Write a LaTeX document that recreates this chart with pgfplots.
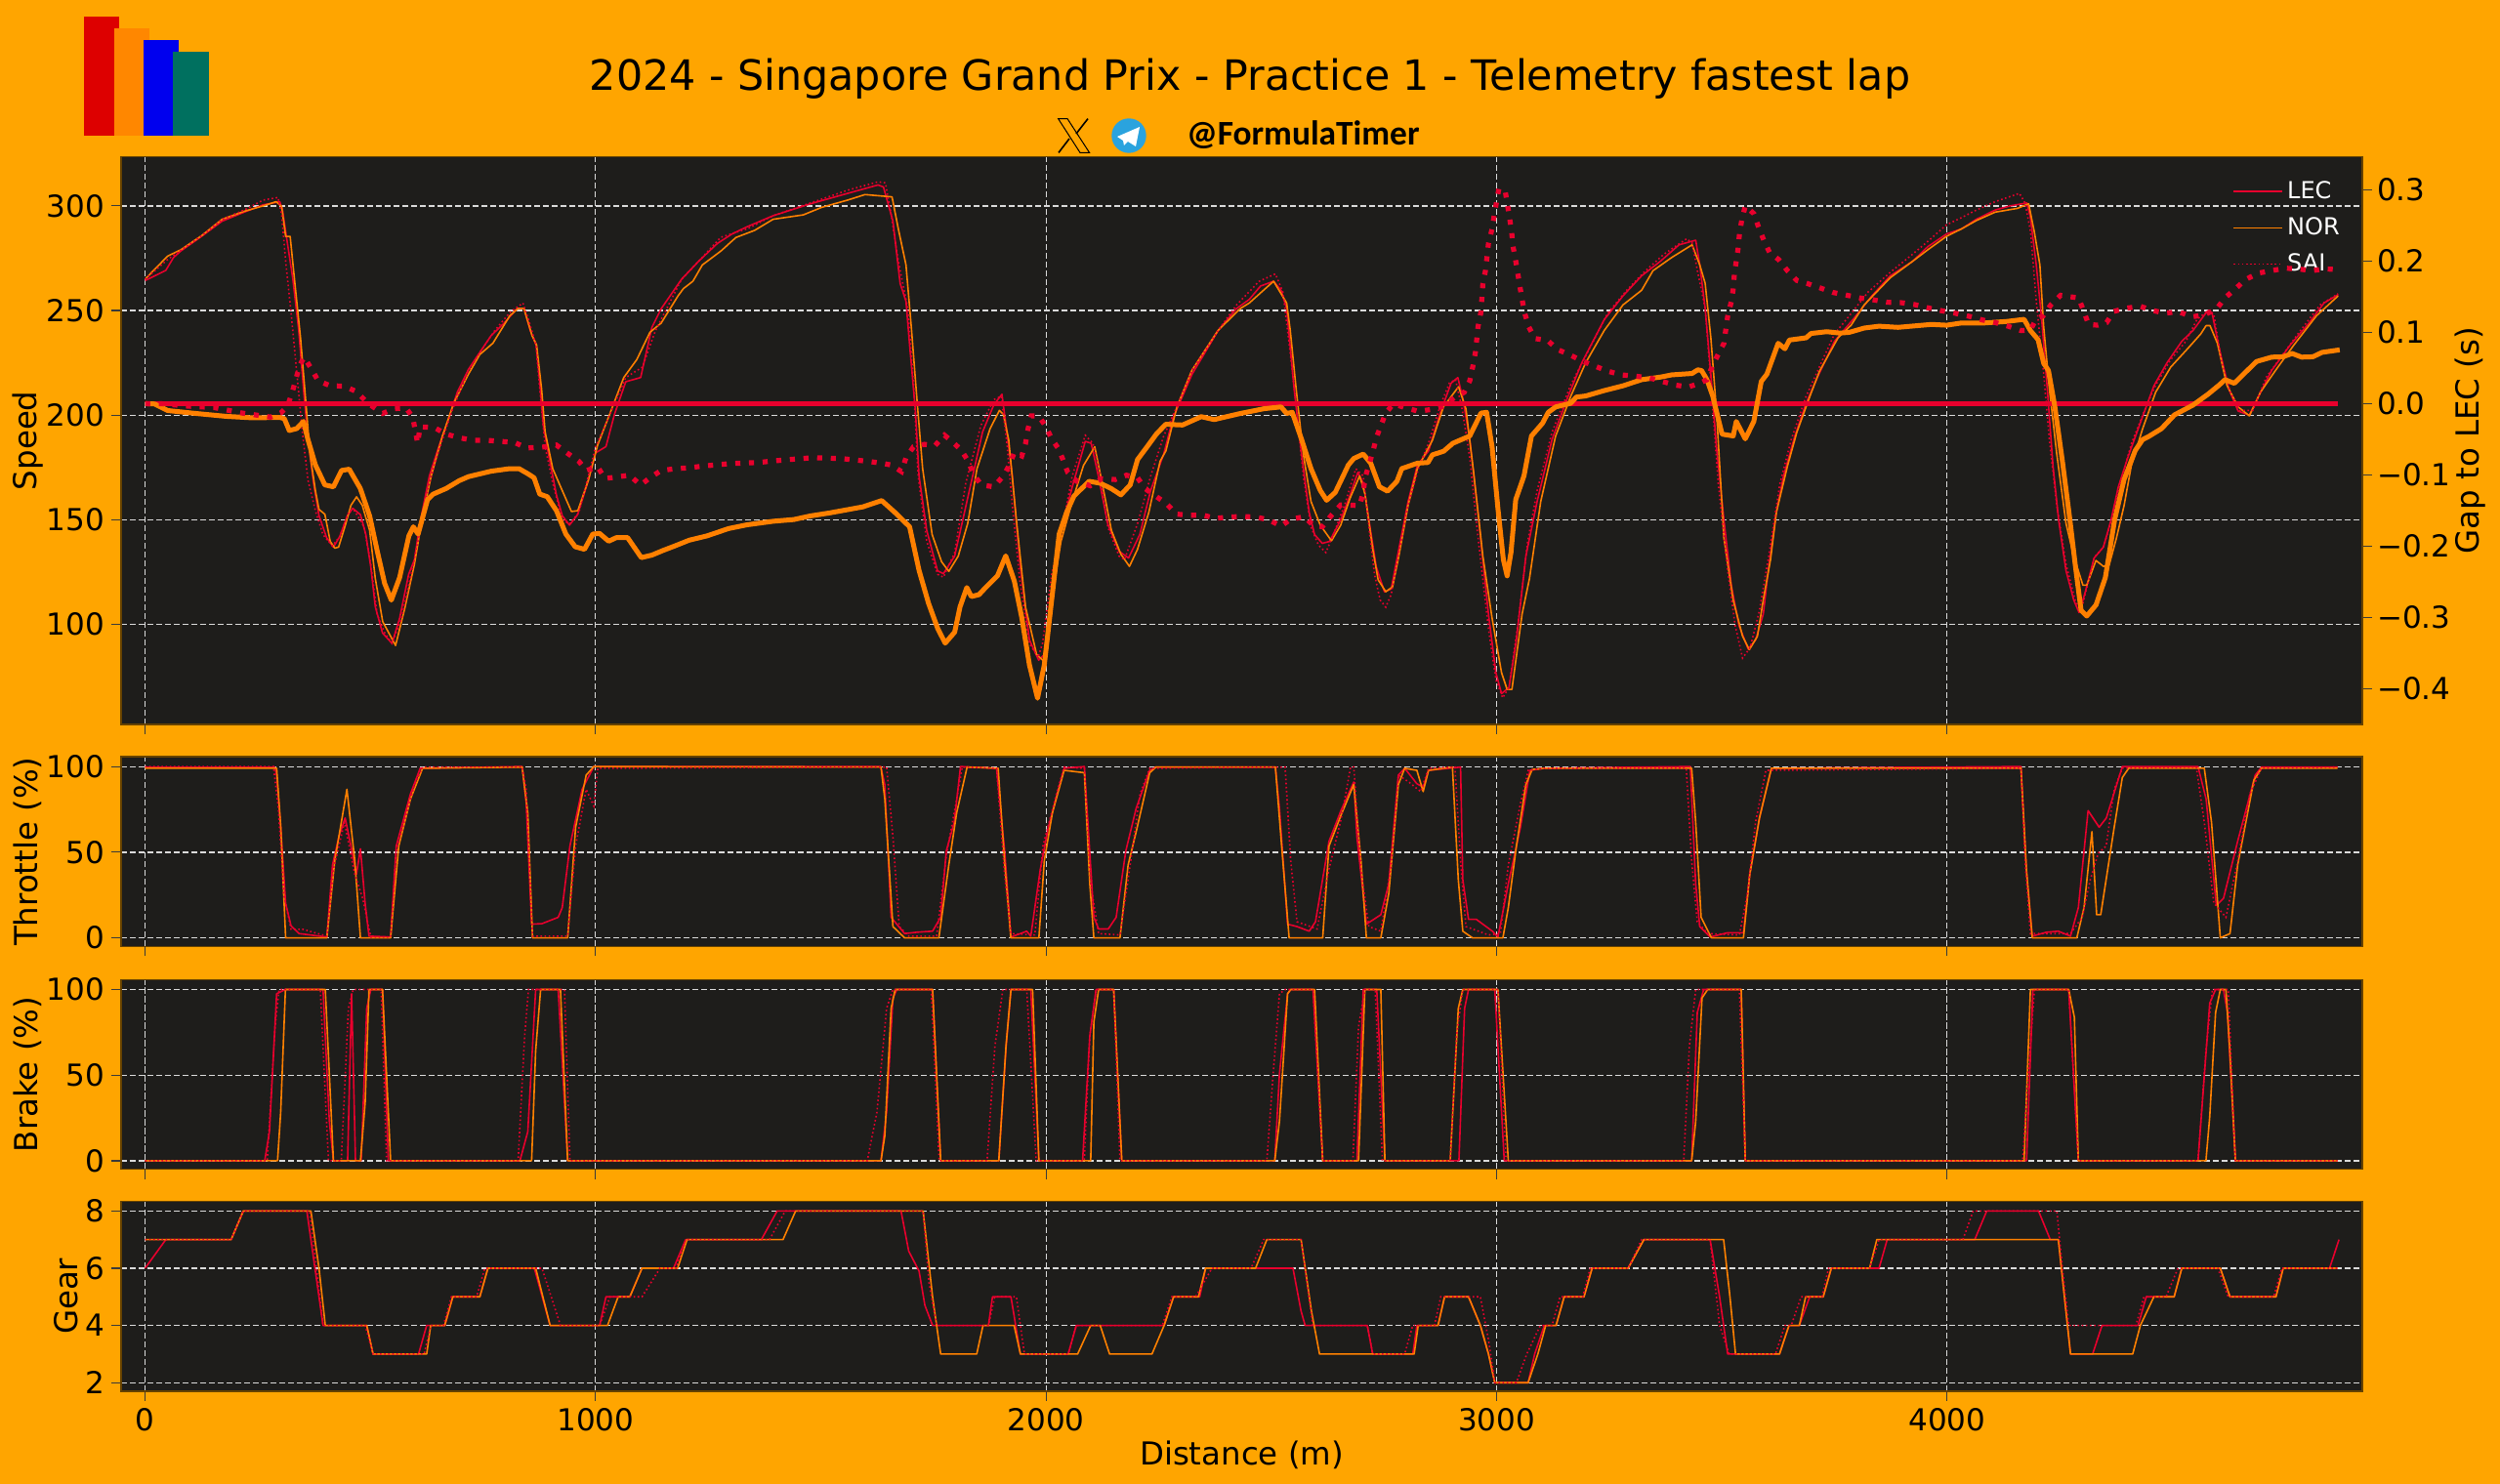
\documentclass[border=0pt]{standalone}
\usepackage{fontspec}
\usepackage{pgfplots}
\pgfplotsset{compat=1.18}
\setmainfont{DejaVu Sans}
\newfontfamily\handlefont{Carlito}

\definecolor{pagebg}{HTML}{FFA500}
\definecolor{panelbg}{HTML}{1E1D1B}
\definecolor{lec}{HTML}{E8002D}
\definecolor{nor}{HTML}{FF8000}
\definecolor{gridc}{HTML}{DADADA}
\definecolor{tickc}{HTML}{3A3A3A}
\definecolor{tg}{HTML}{2AA3DE}

\pgfplotsset{
  panel/.style={
    scale only axis, width=1147.5pt, anchor=south west,
    xmin=-53.3, xmax=4921.7,
    xtick={0,1000,2000,3000,4000},
    xticklabels={},
    tick align=outside, tick pos=left,
    major tick length=5pt,
    tick style={draw=tickc, line width=0.6pt},
    axis line style={draw=black!60!pagebg, line width=0.6pt},
    axis background/.style={fill=panelbg},
    xmajorgrids, ymajorgrids,
    x grid style={gridc, line width=0.5pt, dash pattern=on 3.2pt off 1.3pt},
    y grid style={gridc, line width=0.65pt, dash pattern=on 3.2pt off 1.3pt},
    tick label style={font=\fontsize{15.5}{15.5}\selectfont, text=black},
    label style={font=\fontsize{16.2}{16.2}\selectfont, text=black},
    /pgf/number format/assume math mode=true,
    /pgf/number format/1000 sep={},
  },
  lecline/.style={lec, line width=0.8pt, line join=round},
  norline/.style={nor, line width=0.8pt, line join=round},
  sailine/.style={lec, line width=0.8pt, dash pattern=on 0.8pt off 1.3pt},
}

\begin{document}
\begin{tikzpicture}[x=1pt,y=1pt]
\fill[pagebg] (0,0) rectangle (1280,760);

% logo
\fill[fill={rgb,255:red,221;green,0;blue,0}] (43,690.5) rectangle (61.2,751.7);
\fill[fill={rgb,255:red,255;green,135;blue,0}] (58.4,690.5) rectangle (76.7,745.3);
\fill[fill={rgb,255:red,0;green,0;blue,238}] (73.4,690.5) rectangle (91.7,739.3);
\fill[fill={rgb,255:red,0;green,112;blue,95}] (88.7,690.5) rectangle (107.2,733.3);

% title and handle
\node[text=black,font=\fontsize{21.4}{21.4}\selectfont] at (640,719.4) {2024 - Singapore Grand Prix - Practice 1 - Telemetry fastest lap};
\draw[black,line width=0.5pt,line join=miter] (541.8,699.2) -- (546.5,699.2) -- (557.8,681.8) -- (553,681.8) -- cycle;
\draw[black,line width=0.8pt] (557,699.2) -- (551,691.5);
\draw[black,line width=0.8pt] (547.5,689) -- (542,681.8);
\fill[tg] (578,690.5) circle (8.85);
\fill[white] (572,690) -- (583.5,695) -- (581.5,685) -- (577.5,687.5) -- (575.5,685.5) -- (575,688) -- cycle;
\node[text=black,font=\handlefont\bfseries\fontsize{17.7}{17.7}\selectfont,anchor=west,inner sep=0pt] at (607.3,691) {@FormulaTimer};

% speed
\begin{axis}[panel, at={(62pt,389pt)}, height=290.75pt,
  ymin=52.3, ymax=323.5, ytick={100,150,200,250,300},
  ylabel={Speed},
  y label style={at={(axis description cs:-0.0418,0.5)},anchor=center},
  legend cell align=left,
  legend image code/.code={\draw[#1] (0pt,0pt) -- (25pt,0pt);},
  legend style={at={(axis description cs:0.9935,0.971)},anchor=north east,draw=none,fill=none,
    text=white,font=\fontsize{12}{12}\selectfont,row sep=4.2pt,inner sep=2pt,
    /tikz/every even column/.append style={column sep=9pt}},
]
\addplot[lecline] coordinates {
(0,264.3)(46,269.2)(63,275.3)(79,278.4)(125,285.4)(171,292.7)(220,297)(262,300.5)(299,302)(305,298)(316,282)(328,265)(341,240.5)(353,209)(362,188)(374,167.5)(386,152)(403,141.5)(418,137)(432,142)(449,152)(461,155.5)(478,152.5)(490,143)(501,127.5)(511,108.5)(527,96)(548,91)(565,103)(585,124)(598,131)(610,148.3)(631,171)(652,185)(677,200.5)(693,211)(718,222)(743,230)(768,238)(797,244)(826,251)(841,251)(855,240.5)(868,233.5)(876,216)(884,195)(897,179.7)(913,162)(926,152)(942,147.5)(960,152.5)(984,169)(1000,182)(1023,185)(1042,200.5)(1067,216)(1100,218)(1125,242)(1146,251)(1191,265)(1229,273.6)(1270,282)(1303,286.6)(1336,290)(1394,295.3)(1477,301)(1560,306)(1627,310)(1639,309)(1660,292.7)(1676,263)(1689,254.4)(1697,233.6)(1710,202)(1718,171)(1735,145)(1759,125.7)(1772,124.3)(1797,132.7)(1826,160.5)(1859,192)(1884,205)(1902,210)(1913,192)(1925,171)(1942,129)(1963,92.7)(1983.5,83)(1996,85.7)(2017,124)(2033,145)(2058,165.7)(2087,187.5)(2100,186.6)(2116,171)(2137,148)(2162,135)(2183,131.8)(2208,143)(2232,164)(2261,181.4)(2282,198.8)(2324,219.6)(2382,240.5)(2423,251)(2451,255.3)(2476,261.7)(2505,264)(2521.5,259.7)(2534,251)(2550.5,212.7)(2567,181.4)(2584,153.6)(2596,143)(2613,138.8)(2629,139.7)(2654,150)(2675,162)(2692,172.7)(2704,167.5)(2716.5,150)(2733,127.5)(2751,115.7)(2766,117)(2783,136)(2803.6,158.8)(2824,176)(2849,183)(2874,200.5)(2899,215.3)(2914,218)(2925.5,207.5)(2940.5,188.3)(2957,157)(2982,105)(2998.5,77)(3011,67)(3027.6,70)(3044,92.7)(3065,132.7)(3090,158.8)(3123,188.3)(3156,207.5)(3189,225)(3239,245.7)(3280.6,257)(3322,266.6)(3364,273.6)(3405,281.4)(3442,283.6)(3451,271.8)(3463,251)(3475.6,219.6)(3488,185)(3504.6,150)(3521,118.8)(3538,99.6)(3558.5,88.3)(3575,92.7)(3592,105)(3604,127.5)(3621,153.6)(3637,171)(3662,190)(3687,205.7)(3712,218)(3750,235.3)(3791,245.7)(3833,257)(3874,266.6)(3924,273.6)(3957,280.5)(3999,286.6)(4032,289)(4065,293.6)(4106.6,298)(4140,300)(4177,301.4)(4185,294.4)(4198,271.8)(4210,245.7)(4223,211)(4235,176)(4247.6,150)(4264,125.7)(4281,111.8)(4293,105.7)(4306,115)(4326.4,131.8)(4347,137)(4364,150)(4380,165.7)(4401,179.7)(4430,197)(4459,214)(4488,225)(4521,235.3)(4546,240.5)(4575,249)(4588,249)(4604,232)(4625,212.7)(4646,202)(4671,200)(4691.5,209)(4720.5,221.4)(4762,233.6)(4803.5,244)(4836.6,253.6)(4868,257.6)
};
\addlegendentry{LEC}
\addplot[norline] coordinates {
(0,265)(50,276)(79,279)(125,285.7)(171,293.6)(220,297.4)(262,300)(291,302)(303,299.7)(312,285.4)(322,285.4)(332.5,263)(345,237)(357,205.7)(366,181.4)(378,164)(386,155)(399,152.7)(411,139.7)(421,136.5)(429.5,137)(444.5,147.5)(457,157)(469.4,161)(482,157)(498.4,145)(511,122)(527.4,101.4)(556,90)(577,108.3)(598,129)(614.5,150)(635,171)(660,190)(685,205.7)(718,219.7)(743,229)(772,234.4)(809.5,247.5)(827.7,251)(841,251)(859,238)(869,233.6)(880,212.7)(888,192)(905,174.4)(926,164)(946.4,154)(960.5,154.4)(984,169)(1004.4,185.7)(1025,197)(1062.5,218)(1091.5,226.6)(1120.6,239.6)(1145.5,244)(1183,257)(1195,260.5)(1216,264)(1237,271.8)(1278,278.4)(1311.5,284.9)(1353,288.3)(1394,293.6)(1461,295.7)(1502,299.3)(1560,302.8)(1598,305.4)(1658,304.3)(1672,289)(1689,271.8)(1701.4,240.5)(1714,205.7)(1726,174.4)(1747,143)(1768,130)(1784,125.4)(1805,132.7)(1826,148.3)(1846.5,174.4)(1875.6,193.5)(1896.3,202.3)(1905,200.5)(1917,188.3)(1934,150)(1954.4,108.3)(1979,85.7)(1996,82.3)(2012.5,112)(2033,139.7)(2058,158.8)(2083,176)(2108,184.9)(2124.5,167.5)(2145,145)(2166,133.6)(2185,127.8)(2203,136)(2228,153.6)(2253,178)(2266,183)(2290.4,204)(2323.5,221.4)(2381.6,240.5)(2431.4,251)(2451,253.6)(2505,264)(2534,253.6)(2542,240.5)(2555,212.7)(2571,181.4)(2588,158.8)(2608.6,147.5)(2633.5,140)(2654,147.5)(2675,160.5)(2696,171)(2708,162.3)(2725,136)(2737,121.4)(2754,115.7)(2769,118)(2783,132.7)(2803.6,157)(2824,174.4)(2841,181.4)(2857.5,188)(2882,204)(2915.6,213.6)(2932,203)(2949,172.7)(2969.5,132.7)(2990,103)(3011,77)(3023.4,69)(3034,69)(3056.6,105)(3073,122)(3098,158.8)(3131,190)(3164.5,209)(3197.6,225)(3239,240.5)(3280.6,252.7)(3322,259.7)(3347,269)(3388.4,275.3)(3434,281.4)(3451,271.8)(3463,263)(3475.6,237)(3488,202.3)(3504.6,141.4)(3525,111.8)(3546,94.4)(3561,88)(3579,94.4)(3592,111.8)(3608,131)(3621,153.6)(3646,176)(3666.4,191.8)(3695.4,209)(3716.7,221)(3758,237)(3787,243)(3816,252.7)(3874,265.7)(3924,273.6)(3957,279)(3999,285.5)(4032,289)(4065,293)(4106.6,297)(4156,298.8)(4181,301)(4193.7,287.5)(4206,271.8)(4214.4,242.3)(4227,212.7)(4243.5,181.4)(4264,148.3)(4281,132.7)(4301.5,118.8)(4310,118.8)(4330.5,130.6)(4347,127.8)(4359.6,128.3)(4376,141.4)(4393,157)(4409,176)(4434,193.5)(4463,211)(4496.5,223)(4534,231.8)(4563,238.8)(4575,242.8)(4583.6,242.8)(4600,234.4)(4621,214.4)(4646,204)(4671,199.7)(4695.6,211)(4729,221.4)(4770,233.6)(4820,247.5)(4868,257)
};
\addlegendentry{NOR}
\addplot[sailine] coordinates {
(0,264.9)(50,274.4)(125,285.7)(171,293.6)(220,298)(262,302.8)(295,304)(303,296)(312,273.6)(324,249)(337,219.7)(349,192)(361.5,169)(378,154.4)(394.7,143)(415.4,137.6)(432,142)(453,154.4)(465,154.4)(486,146.6)(501,129)(515,105)(532,96)(548,91)(569,103)(594,127.5)(610.4,145)(631,167.5)(652,183)(681,202)(718,221.4)(743,230)(776.3,240.5)(809.5,249)(838.5,253.6)(851,245.7)(867.6,233.6)(876,212.7)(888,184.9)(905,167.5)(926,150)(942,148)(963,153.6)(984,171)(1000,184.9)(1025,197)(1067,218)(1104,223)(1133,240.5)(1158,251)(1191,265)(1229,273.6)(1278,285)(1336,289)(1394,295.3)(1477,301.4)(1560,307.5)(1627,311.5)(1643.3,311)(1656,296)(1672,273.6)(1693,251)(1705.5,216)(1716,171)(1735,139.7)(1759.4,124)(1772,122.6)(1797,134.4)(1821.6,167.5)(1855,195)(1884,207.5)(1900.5,209)(1913,186.6)(1925,157)(1942,120.5)(1963,91)(1982,84.3)(1992,91)(2012.5,124)(2033,143)(2058,171)(2087,190.4)(2104,186.6)(2120.3,171)(2137,146.6)(2162,132.7)(2174,131)(2203,148.3)(2232.3,171)(2261,190)(2290,204)(2323.5,221.4)(2382,240.5)(2423,252.7)(2473,264)(2509,267.5)(2525.7,258.8)(2538,237)(2554.7,205.7)(2571,171)(2588,146.6)(2604.5,138)(2621,134.4)(2637.7,143)(2662.5,157)(2687.4,174.4)(2704,171)(2716.5,146.6)(2729,124)(2741.4,111.8)(2754,108.3)(2766,114.4)(2783,134.4)(2803.6,157)(2828.5,176)(2849,186.6)(2874,204)(2895,215.3)(2909,217)(2924,202.3)(2940.5,179.7)(2957,145)(2982,98)(2998.5,73.6)(3013.5,65)(3027.6,70)(3048,101.4)(3069,139.7)(3090,164)(3123,191.8)(3164.5,214.4)(3206,231.8)(3247.4,249)(3289,259.7)(3330.4,269)(3372,277)(3422,284.3)(3434,282.3)(3446.5,268.3)(3463,251)(3475.6,216)(3492,167.5)(3513,125.7)(3529.5,99.6)(3546,84)(3563,89)(3583.4,106.6)(3604,132.7)(3629,167.5)(3654,188.3)(3687,209)(3720,224.7)(3750,238.8)(3783,247.5)(3824.5,258.8)(3874,268.3)(3924,277)(3957,283)(3999,291)(4032,294.4)(4065,298)(4106.6,302)(4160.5,306)(4173,301.4)(4185.4,287.5)(4198,254.4)(4214.4,219.7)(4227,188.3)(4243.5,157)(4264,129)(4285,111)(4297.4,106.6)(4314,120.5)(4326.4,132)(4347,137)(4368,151.8)(4384.5,167.5)(4409.4,186.6)(4438.4,202.3)(4463,214.4)(4496.5,226.6)(4530,235.3)(4554.6,245.7)(4579.4,250)(4592,248.3)(4608.5,226.6)(4629,211)(4650,202.3)(4679,202.3)(4708,218)(4737,226.6)(4778.5,238.8)(4828,252.7)(4868,258)
};
\addlegendentry{SAI}
\end{axis}

% gap to LEC
\begin{axis}[panel, at={(62pt,389pt)}, height=290.75pt,
  axis background/.style={}, xmajorgrids=false, ymajorgrids=false,
  axis x line=none, axis y line*=right, tick pos=right,
  ymin=-0.45, ymax=0.3464,
  ytick={-0.4,-0.3,-0.2,-0.1,0,0.1,0.2,0.3},
  yticklabels={−0.4,−0.3,−0.2,−0.1,0.0,0.1,0.2,0.3},
  y tick label style={xshift=-1pt},
  ylabel={Gap to LEC (s)},
  y label style={at={(axis description cs:1.048,0.5)},anchor=center,rotate=0},
]
\addplot[lec, line width=2.5pt] coordinates {(0,0)(4868,0)};
\addplot[nor, line width=2.5pt, line join=round] coordinates {
(0,0)(21,-0.0005)(50,-0.0097)(112.6,-0.0138)(179,-0.0178)(237,-0.0199)(299,-0.0194)(309,-0.021)(320,-0.0377)(336.6,-0.035)(351.5,-0.025)(361.5,-0.0505)(378,-0.086)(399,-0.114)(418,-0.1167)(436,-0.0938)(453,-0.092)(477.7,-0.119)(498.4,-0.1575)(515,-0.206)(531.6,-0.252)(546.5,-0.2757)(565,-0.244)(585.5,-0.1855)(595.4,-0.1728)(606,-0.183)(627,-0.1346)(639.4,-0.127)(668.4,-0.119)(697.5,-0.108)(718,-0.1024)(768,-0.0948)(809.5,-0.0912)(830,-0.0912)(851,-0.0989)(863.4,-0.104)(876,-0.1269)(892.5,-0.1305)(913,-0.15)(934,-0.183)(954.7,-0.2008)(975.4,-0.2044)(993.7,-0.183)(1008.6,-0.182)(1029,-0.193)(1046,-0.188)(1071,-0.188)(1101.5,-0.216)(1125,-0.2125)(1149.6,-0.206)(1174.5,-0.2)(1207.7,-0.1916)(1247.5,-0.1855)(1295,-0.1753)(1336,-0.17)(1394.4,-0.165)(1440,-0.1626)(1477,-0.1575)(1519,-0.1534)(1593.5,-0.1448)(1635,-0.136)(1664,-0.1524)(1697,-0.1728)(1718,-0.234)(1739,-0.28)(1759.4,-0.3155)(1776,-0.336)(1797,-0.3206)(1809,-0.285)(1824,-0.258)(1834,-0.2706)(1851,-0.268)(1867.3,-0.257)(1892,-0.2416)(1910.4,-0.2136)(1929.5,-0.249)(1946,-0.3)(1963,-0.3665)(1981,-0.4133)(1996,-0.3665)(2012.5,-0.2747)(2029,-0.183)(2045.6,-0.1524)(2062,-0.1295)(2095.4,-0.109)(2120,-0.1116)(2145,-0.1193)(2166,-0.128)(2186.7,-0.114)(2203,-0.0785)(2224,-0.0607)(2244.7,-0.0428)(2265.5,-0.029)(2303,-0.03)(2344.3,-0.0183)(2373,-0.0224)(2431.4,-0.0138)(2484,-0.0071)(2521.5,-0.0046)(2534,-0.0138)(2546.4,-0.0122)(2567,-0.05)(2588,-0.0912)(2608.6,-0.1218)(2622.7,-0.1356)(2642,-0.1244)(2671,-0.0861)(2683,-0.077)(2704,-0.0708)(2720.6,-0.0836)(2740,-0.1167)(2758,-0.1228)(2778.7,-0.109)(2789.5,-0.0912)(2824,-0.0836)(2847.6,-0.0826)(2857.5,-0.0719)(2882.4,-0.0668)(2903,-0.0556)(2940.5,-0.0454)(2965.4,-0.0133)(2977.8,-0.0122)(2990,-0.0607)(3003,-0.1473)(3015,-0.2187)(3023.4,-0.2416)(3032,-0.2085)(3042.5,-0.1346)(3060.8,-0.1014)(3077.4,-0.0454)(3102,-0.0275)(3114.7,-0.0122)(3131.3,-0.0046)(3164.5,0.0005)(3177,0.0092)(3197.6,0.0107)(3239,0.0183)(3280.6,0.025)(3322,0.0336)(3363.6,0.0372)(3388.4,0.0403)(3434,0.0423)(3446.5,0.0474)(3455,0.0464)(3467,0.0336)(3479.7,0.0107)(3500.5,-0.0428)(3525.3,-0.0454)(3532,-0.025)(3552,-0.0494)(3571,-0.025)(3587.5,0.0311)(3600,0.0413)(3625,0.0846)(3640,0.077)(3650,0.0892)(3687,0.0923)(3698,0.0984)(3733,0.1009)(3762,0.0989)(3783,0.1)(3816,0.106)(3849,0.1086)(3891,0.107)(3965.5,0.1111)(3999,0.11)(4032,0.1131)(4081.7,0.1131)(4131.5,0.1152)(4171,0.1182)(4185,0.1024)(4202,0.0897)(4214.4,0.0566)(4225,0.0464)(4239.3,-0.0046)(4256,-0.081)(4272.5,-0.1626)(4285,-0.2288)(4297.4,-0.29)(4310,-0.298)(4330.6,-0.2824)(4351.3,-0.2441)(4372,-0.1626)(4392.8,-0.1065)(4417.7,-0.0657)(4434,-0.0505)(4446.7,-0.0464)(4475.8,-0.0352)(4504.8,-0.0158)(4546,-0.002)(4579.4,0.0133)(4604,0.026)(4617,0.0336)(4637.5,0.0285)(4658,0.0413)(4687,0.0591)(4720.5,0.0652)(4745.4,0.0657)(4766,0.0703)(4787,0.0652)(4812,0.0657)(4832.5,0.0719)(4871.5,0.0754)
};
\addplot[lec, line width=2.6pt, dash pattern=on 2.6pt off 4.4pt] coordinates {
(0,0)(34,0)(96,-0.0036)(154,-0.0056)(216,-0.0133)(278.5,-0.0189)(302,-0.0127)(316,-0.0036)(327,0.0168)(335,0.0352)(343.5,0.054)(353,0.0652)(370,0.0479)(384,0.0321)(411,0.025)(442,0.0245)(469.4,0.0168)(488,0.0046)(504,-0.0036)(527.4,-0.0138)(552,-0.0071)(579,-0.0061)(594,-0.0189)(600,-0.0387)(605,-0.0556)(610.4,-0.0326)(642,-0.0336)(668.4,-0.0428)(697.5,-0.0479)(728,-0.0515)(760,-0.0515)(789,-0.053)(820,-0.0545)(847,-0.0622)(888,-0.0607)(913,-0.0581)(938,-0.0698)(963,-0.081)(979.6,-0.0938)(1004.4,-0.0887)(1021,-0.105)(1046,-0.103)(1075,-0.1004)(1100,-0.1142)(1120.6,-0.104)(1145.5,-0.0938)(1178.6,-0.0912)(1207.7,-0.09)(1237,-0.0877)(1299,-0.0841)(1360,-0.0826)(1419,-0.079)(1481.5,-0.0759)(1544,-0.077)(1606,-0.081)(1635,-0.0836)(1656,-0.0861)(1679,-0.0953)(1689,-0.0759)(1705.5,-0.0607)(1730,-0.0571)(1753,-0.0591)(1774.4,-0.0443)(1791,-0.053)(1811,-0.0647)(1827.5,-0.081)(1838.3,-0.0989)(1856.5,-0.1142)(1884,-0.1167)(1905,-0.1014)(1918.7,-0.0861)(1929.5,-0.0683)(1946,-0.0734)(1954.4,-0.0556)(1960,-0.0352)(1967,-0.0173)(1983.4,-0.0173)(2000,-0.0326)(2012.5,-0.0494)(2027.4,-0.0632)(2037.4,-0.0785)(2048,-0.0963)(2068,-0.109)(2098,-0.1152)(2123,-0.1055)(2153.5,-0.1065)(2178.4,-0.1004)(2203,-0.104)(2220,-0.1193)(2245,-0.1305)(2268,-0.1407)(2289,-0.155)(2317,-0.1565)(2348.5,-0.1565)(2376,-0.161)(2406.6,-0.159)(2435.5,-0.1585)(2463.4,-0.159)(2492.5,-0.1626)(2521.5,-0.1718)(2542,-0.1626)(2573,-0.1585)(2592,-0.1702)(2613,-0.1728)(2633.5,-0.1565)(2654,-0.1422)(2671,-0.1422)(2696,-0.1432)(2704,-0.1244)(2708,-0.104)(2716.5,-0.0861)(2725,-0.0683)(2733,-0.0479)(2743,-0.0311)(2754,-0.0133)(2770.4,-0.0005)(2797,-0.0056)(2826,-0.0107)(2855,-0.0082)(2882.4,-0.0036)(2905.6,0.0082)(2928,0.0158)(2940.5,0.0321)(2947,0.0515)(2953,0.0719)(2958.7,0.1075)(2965.4,0.129)(2969.5,0.1687)(2975.3,0.1865)(2982,0.2248)(2990,0.2452)(2994.4,0.263)(3000,0.2834)(3005,0.3012)(3019,0.2987)(3027.6,0.2655)(3033.4,0.2411)(3036,0.2222)(3041.7,0.2029)(3046.7,0.184)(3056.6,0.1458)(3062.4,0.1269)(3071.5,0.1075)(3085.6,0.0912)(3113,0.0887)(3135.4,0.0759)(3164.5,0.0678)(3192,0.0591)(3218.4,0.0525)(3247.4,0.0454)(3276.5,0.0403)(3305.5,0.0387)(3338.7,0.0362)(3367.7,0.0311)(3396.7,0.026)(3425.8,0.0234)(3450.7,0.0285)(3467,0.0336)(3479.7,0.054)(3492,0.0693)(3504.6,0.0846)(3513,0.1228)(3521,0.1432)(3525.3,0.161)(3527.8,0.1814)(3532,0.2)(3536,0.2171)(3539.4,0.24)(3544.4,0.2579)(3552,0.2773)(3571,0.2665)(3582,0.2467)(3593.4,0.2288)(3606,0.212)(3626.6,0.2018)(3645.6,0.1865)(3666.4,0.1728)(3688.8,0.1687)(3716.7,0.1626)(3746,0.156)(3775,0.1524)(3805.4,0.1483)(3834.5,0.1458)(3866,0.1422)(3896.7,0.1417)(3926.6,0.1391)(3955.6,0.1346)(3986,0.1305)(4017,0.1269)(4047,0.1228)(4076,0.1177)(4106.6,0.1137)(4135.6,0.1086)(4164.6,0.1024)(4185,0.1035)(4199.5,0.1203)(4212.8,0.1228)(4231,0.1391)(4252,0.1519)(4274,0.1498)(4291.6,0.1483)(4303,0.1305)(4314,0.1111)(4334.7,0.11)(4354,0.1137)(4370.4,0.1295)(4399.4,0.134)(4428.4,0.1366)(4456.7,0.1305)(4484,0.1269)(4513,0.129)(4544,0.1218)(4571,0.1244)(4598.5,0.133)(4616.8,0.1483)(4640,0.161)(4662,0.1738)(4690,0.183)(4720.5,0.1865)(4749.5,0.19)(4778.5,0.189)(4809,0.1865)(4839,0.189)(4866.5,0.188)
};
\end{axis}

% throttle
\begin{axis}[panel, at={(62pt,275.3pt)}, height=97.2pt,
  ymin=-5, ymax=105.8, ytick={0,50,100},
  ylabel={Throttle (\%)},
  y label style={at={(axis description cs:-0.0418,0.5)},anchor=center},
]
\addplot[lecline] coordinates {
(0,99.5)(288,99.5)(292,95)(301,65)(312,20)(324,7)(342,2.5)(403.5,0.5)(416,42.5)(430,59)(444,70)(457,53.6)(469,37)(478,52)(488.5,20)(497,1)(545,0.5)(557.5,53.6)(589,84)(610.6,99)(837,100)(846,78.5)(858,8)(881,8.3)(917,12)(926,17.7)(943,53.6)(970,86.7)(996,100)(1633,100)(1642,89.5)(1656,12)(1686,2.5)(1713,3.3)(1748,3.9)(1766,12)(1778.5,50.8)(1796,67.4)(1810,100)(1890,99)(1908,50.8)(1922,0.5)(1943,2.5)(1957,3.9)(1966,1)(1987,39.8)(2005,64.6)(2040,99)(2085,100)(2106,12)(2116.6,5.2)(2138,5.2)(2155.5,12)(2177,50.8)(2200,75.7)(2230,97.8)(2244,99.7)(2509,99.7)(2518,75.7)(2536,8)(2557,6.6)(2584,3.9)(2598,9.4)(2628,56.4)(2654.5,74.3)(2683,91)(2690,59)(2711,8)(2743,13.5)(2760.7,31.5)(2782,95)(2796,99)(2823,90)(2837,88)(2849,97.8)(2920,99.7)(2925,34)(2937.7,10.8)(2955,10.8)(2990.7,3.9)(3003,0.5)(3026,31.5)(3053,64.6)(3074,97.8)(3106,99)(3430,100)(3442,31.5)(3451,6.6)(3474,0.5)(3513,3)(3548,3)(3562,37)(3583.5,70)(3610,99)(4164,100)(4176,39.8)(4189,1)(4220.6,3.3)(4247,3.9)(4274,1)(4291.4,17.7)(4313,74.3)(4337.6,64.6)(4353.5,70)(4389,100)(4557,100)(4575,81)(4597.6,19)(4613.5,23)(4645,56.4)(4684,95)(4698,99.7)(4866.5,99.7)
};
\addplot[norline] coordinates {
(0,99)(292,99)(301,65)(312,0)(403.5,0)(421,45)(448,86.7)(465.5,45)(478,0)(545,0)(563,53.6)(589,81)(616,99)(837,99.7)(849.5,73)(860,0)(938,0)(955.7,64.6)(979,95)(996,100)(1633.5,99.7)(1642,81)(1660,6.6)(1686,0)(1762,0)(1784,42.5)(1801.5,73)(1824.6,99.7)(1893.6,99)(1907.6,45)(1921.7,0)(1984,0)(1996,45)(2014,73)(2040,97.8)(2085,96.4)(2097,31.5)(2106,0)(2164,0)(2182,42.5)(2200,62)(2230,96.4)(2244,99.7)(2509,99.7)(2522,56.4)(2539.5,0)(2614,0)(2628,53.6)(2654.5,71.5)(2683,89.5)(2699,45)(2711,0)(2743,0)(2760.7,26)(2782,89.5)(2796,99)(2823,97.8)(2837,85.4)(2849,97.8)(2902,99.7)(2915,34)(2925,3.9)(2946.5,0)(3014,0)(3026,17.7)(3044,53.6)(3065,89.5)(3079,98.3)(3106,99)(3433,99)(3442,67.4)(3454,12)(3477,0)(3548,0)(3562,37)(3583.5,70)(3610,99)(4164,99)(4176,40)(4189,0)(4288,0)(4304,17.7)(4321.5,62)(4332,13.5)(4341,13.5)(4371,64.6)(4389,93.6)(4403,99)(4571,99)(4587,67.4)(4606.5,0)(4628,2.5)(4645,42.5)(4681,92)(4698,99)(4866.5,99)
};
\addplot[sailine] coordinates {
(0,100)(285,100)(296,75)(308,25)(324,5)(350.5,5)(403.5,1)(418,40)(442.5,67.4)(465.5,37)(483,23)(501,0.5)(545,0.5)(557.5,50.8)(598,89.5)(616,99.7)(837,99.7)(846,86.7)(860,1)(938,1)(955.7,53.6)(979,86.7)(996,77)(1005,99)(1646,99.7)(1660,59)(1674,6.6)(1695,1)(1757,1)(1778.5,48)(1801.5,81)(1814,99.7)(1890,99)(1908,37)(1922,2.5)(1975,1.7)(1993,53.6)(2023,84)(2040,99.7)(2085,99)(2099,31.5)(2116.6,2.5)(2164,1.7)(2182,34)(2208.5,84)(2230,99)(2530.6,99.7)(2543,45)(2557,9.4)(2601.4,5.2)(2628,40)(2654.5,69)(2676,99.7)(2683,99.7)(2699,40)(2716.4,6.6)(2743,3.9)(2766,42.5)(2782,95)(2805,91)(2831.5,85.4)(2849,99)(2907.6,99.7)(2920,45)(2932,6.6)(2982,1.7)(3008.4,2.5)(3026,42.5)(3053,78.5)(3070.4,97.8)(3106,99)(3421,99)(3433,45)(3445.5,9.4)(3468.5,2.5)(3539,1.7)(3557,26)(3574.7,67.4)(3597.7,97.8)(4164,99)(4173,45)(4185,2.5)(4274,2.5)(4300,12)(4318,34)(4335.5,49.4)(4353,53.6)(4371,86.7)(4389,99)(4553.2,99.7)(4571,67.4)(4592,20.4)(4619,12)(4645,45)(4672,84)(4698,99)(4866.5,99.7)
};
\end{axis}

% brake
\begin{axis}[panel, at={(62pt,161.15pt)}, height=97.2pt,
  ymin=-5, ymax=105.8, ytick={0,50,100},
  ylabel={Brake (\%)},
  y label style={at={(axis description cs:-0.0418,0.5)},anchor=center},
]
\addplot[lecline] coordinates {
(0,0)(265.5,0)(276,17)(292,97.5)(311.5,100)(395,100)(409,23)(418,0)(449.5,0)(458.4,97.5)(467,0)(479.6,0)(492,89)(501,100)(527,100)(540,0)(832,0)(849.5,17)(867,100)(917,100)(938,0)(1633.5,0)(1646,28.5)(1660,95)(1669,100)(1748,100)(1766,0)(1895,0)(1911.3,67)(1922,100)(1966,100)(1984,0)(2081,0)(2097,72.7)(2111,100)(2150,100)(2168,0)(2507.6,0)(2518,50.6)(2536,97.5)(2543,100)(2592.6,100)(2614,0)(2690,0)(2704,100)(2734,100)(2752,0)(2916.4,0)(2929,89)(2937.7,100)(2996,100)(3017,0)(3433,0)(3445.5,86.5)(3459.7,100)(3543,100)(3552,0)(4176.4,0)(4190.5,100)(4270,100)(4291.4,0)(4557,0)(4583,92)(4596,100)(4613.5,100)(4622.3,86.5)(4640,0)(4866.5,0)
};
\addplot[norline] coordinates {
(0,0)(294,0)(301,28.5)(311.5,100)(400,100)(409,50.6)(418,0)(478,0)(488.5,34)(497,100)(527,100)(545,0)(858,0)(867,64.4)(878,100)(922,100)(938,0)(1633.5,0)(1642,14.6)(1656,89)(1665,100)(1748,100)(1766,0)(1895,0)(1911,67)(1922,100)(1970,100)(1984,0)(2099,0)(2106,81)(2116.6,100)(2150,100)(2168,0)(2507.6,0)(2518,23)(2536,97.5)(2543,100)(2596,100)(2614,0)(2693.5,0)(2707.6,100)(2743,100)(2752,0)(2897,0)(2915,89)(2925,100)(3003,100)(3026,0)(3433,0)(3442,23)(3456,95)(3468.5,100)(3543,100)(3552,0)(4171,0)(4185,100)(4270,100)(4282.6,83.7)(4291.4,0)(4574.6,0)(4583,25.7)(4596,86.5)(4606.5,100)(4619,100)(4627.7,64.4)(4640,0)(4866.5,0)
};
\addplot[sailine] coordinates {
(0,0)(271,0)(288.5,78)(297.4,100)(389,100)(407,0)(435.4,0)(451.3,89)(462,100)(524,100)(536,0)(828,0)(842.4,72.7)(851,100)(931,100)(943,0)(1603,0)(1624.6,28.5)(1646,89)(1660,100)(1745,100)(1762.6,0)(1869,0)(1886.4,67)(1904,100)(1957,100)(1978,0)(2084.7,0)(2097,72.7)(2111,100)(2150,100)(2164,0)(2490,0)(2504,50.6)(2518,97.5)(2530.6,100)(2592.6,100)(2614,0)(2681,0)(2693.5,78)(2707.6,100)(2730.6,100)(2746.5,0)(2897,0)(2911,72.7)(2925,100)(3003,100)(3021,0)(3415.4,0)(3428,67)(3442,100)(3539,100)(3552,0)(4167.6,0)(4180,50.6)(4194,100)(4270,100)(4291.4,0)(4557,0)(4574.6,64.4)(4589,100)(4624,100)(4640,0)(4866.5,0)
};
\end{axis}

% gear
\begin{axis}[panel, at={(62pt,47.5pt)}, height=97.15pt,
  ymin=1.70, ymax=8.33, ytick={2,4,6,8},
  xticklabels={0,1000,2000,3000,4000},
  xlabel={Distance (m)},
  x label style={at={(axis description cs:0.5,-0.228)},anchor=north},
  ylabel={Gear},
  y label style={at={(axis description cs:-0.0244,0.5)},anchor=center},
]
\addplot[lecline] coordinates {
(0,6)(46,7)(191,7)(218,8)(359,8)(377,6)(395,4)(492,4)(506,3)(607,3)(625,4)(665.5,4)(683,5)(743,5)(761,6)(864,6)(899,4)(1009,4)(1023,5)(1076,5)(1103,6)(1173,6)(1200,7)(1368,7)(1403,8)(1678,8)(1695,6.6)(1718,5.9)(1731,4.7)(1748,4)(1872,4)(1881,5)(1922,5)(1943,3)(2049,3)(2067,4)(2262,4)(2283,5)(2341,5)(2354,6)(2548,6)(2566,4.5)(2575,4)(2713,4)(2725,3)(2814,3)(2823,4)(2870,4)(2884.5,5)(2937.7,5)(2964,4)(2982,3)(2996,2)(3070,2)(3084.5,3)(3106,4)(3132,4)(3150,5)(3194,5)(3212,6)(3292,6)(3327,7)(3474,7)(3495,5)(3513,3)(3628,3)(3649,4)(3672,4)(3695,5)(3725,5)(3743,6)(3849,6)(3867,7)(4061.4,7)(4088,8)(4203,8)(4229,7)(4247,7)(4274,3)(4323,3)(4344,4)(4424,4)(4442,5)(4504,5)(4521,6)(4606.5,6)(4628,5)(4730,5)(4746,6)(4849,6)(4870,7)
};
\addplot[norline] coordinates {
(0,7)(191,7)(218,8)(368,8)(386,6)(400,4)(492,4)(506,3)(625,3)(634,4)(665,4)(683,5)(743,5)(761,6)(867,6)(899,4)(1026.5,4)(1050,5)(1076,5)(1103,6)(1182,6)(1203,7)(1416,7)(1444,8)(1727,8)(1748,5)(1766,3)(1846,3)(1860,4)(1929,4)(1943,3)(2070,3)(2099,4)(2120,4)(2141,3)(2235,3)(2262,4)(2283,5)(2338,5)(2354,6)(2465,6)(2490,7)(2566,7)(2589,4.5)(2607,3)(2817,3)(2826,4)(2870,4)(2884.5,5)(2937.7,5)(2964,4)(2982,3)(2996,2)(3070,2)(3091.6,3)(3109,4)(3132,4)(3150,5)(3194,5)(3212,6)(3292,6)(3327,7)(3504,7)(3518,5)(3530.4,3)(3628,3)(3649,4)(3672,4)(3686,5)(3725,5)(3743,6)(3828,6)(3844,7)(4247,7)(4274,3)(4412,3)(4429,4)(4459,5)(4504,5)(4521,6)(4606.5,6)(4628,5)(4730,5)(4746,6)(4866.5,6)
};
\addplot[sailine] coordinates {
(0,7)(191,7)(218,8)(365,8)(380.5,6)(395,4)(488.5,4)(506,3)(619.4,3)(634,4)(662,4)(680,5)(736,5)(754,6)(881,6)(922,4)(1009,4)(1032,5)(1103,5)(1143,6)(1178.6,6)(1200,7)(1386,7)(1421,8)(1727,8)(1740,5.5)(1757,4)(1872,4)(1886,5)(1934,5)(1952,3)(2049,3)(2067,4)(2258,4)(2279,5)(2332,5)(2368,6)(2455,6)(2483,7)(2566,7)(2592,4)(2713,4)(2725,3)(2796,3)(2814,4)(2862,4)(2876,5)(2964,5)(2982,3.5)(2996,2)(3044,2)(3067,3)(3097,4)(3123,4)(3141,5)(3191,5)(3208,6)(3292,6)(3322,7)(3474,7)(3495,4)(3516,3)(3619,3)(3640,4)(3654,4)(3676,5)(3722,5)(3737,6)(3828,6)(3849,7)(4035,7)(4058,8)(4243.6,8)(4256,6)(4270,4)(4419,4)(4437,5)(4486,5)(4512.5,6)(4601,6)(4624,5)(4725,5)(4743,6)(4866.5,6)
};
\end{axis}
\end{tikzpicture}
\end{document}
